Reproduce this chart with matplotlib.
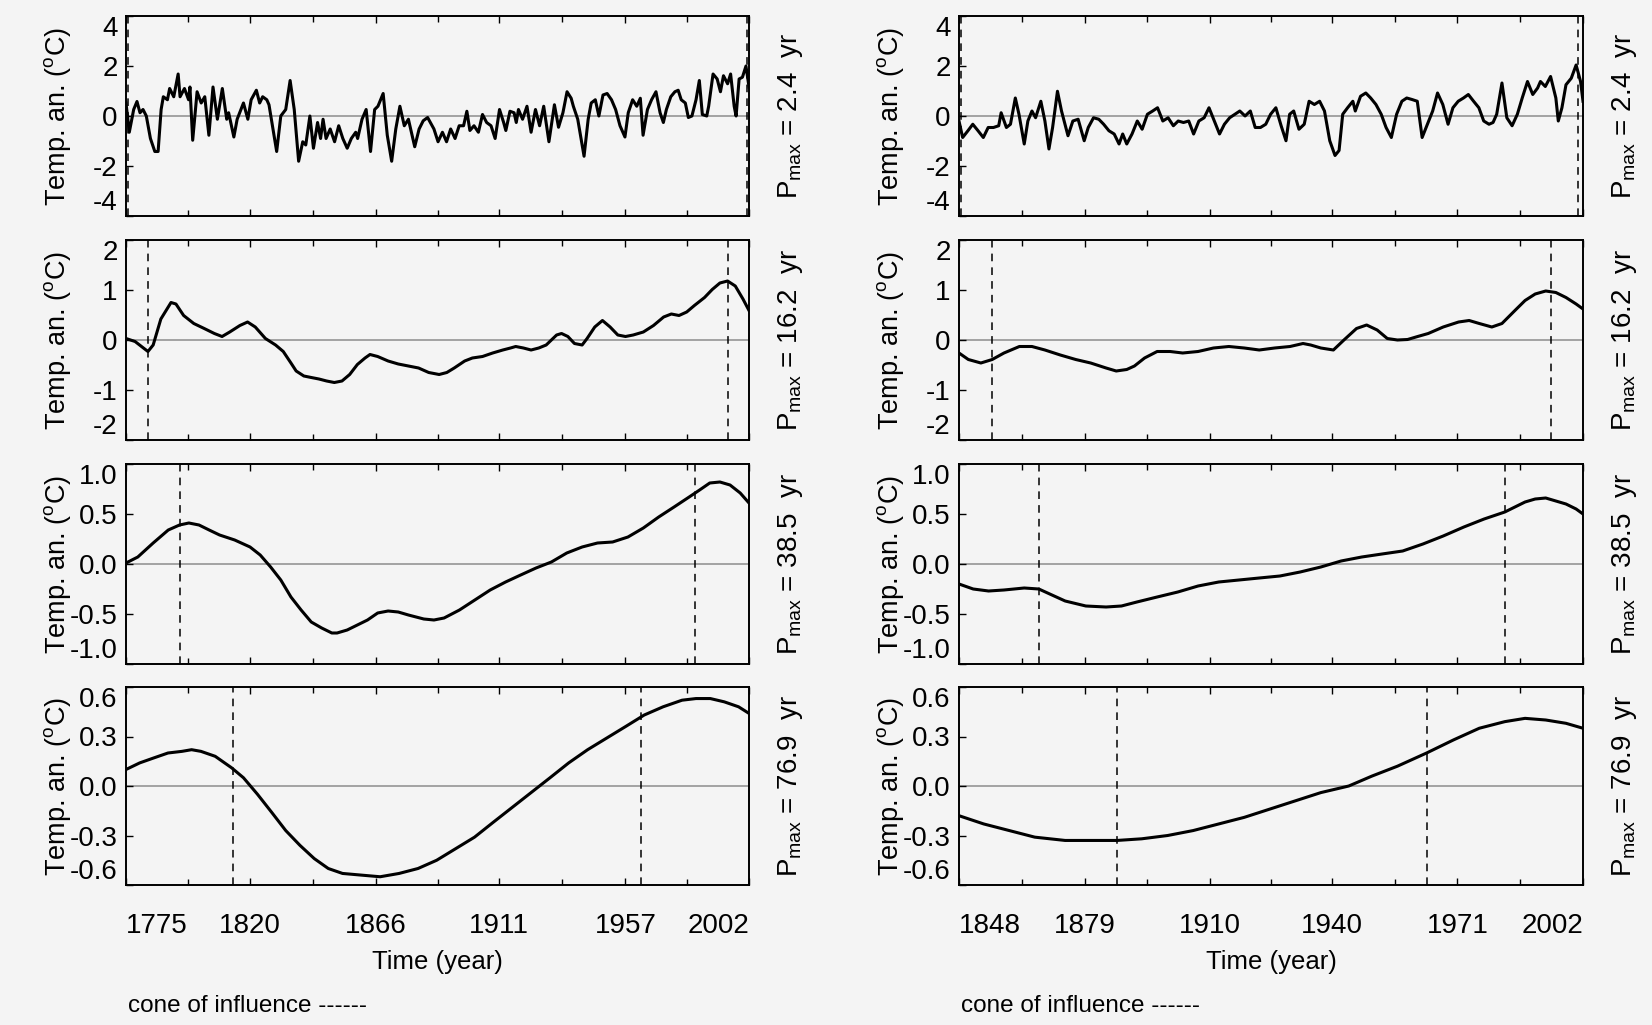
import matplotlib
matplotlib.use('Agg')
import matplotlib.pyplot as plt

plt.rcParams['font.family'] = ['Liberation Sans', 'DejaVu Sans']
plt.rcParams['mathtext.fontset'] = 'custom'
plt.rcParams['mathtext.rm'] = 'Liberation Sans'

# ---------------- data ----------------
periods = [2.4, 16.2, 38.5, 76.9]

left_xticks = [1775, 1820, 1866, 1911, 1957, 2002]
right_xticks = [1848, 1879, 1910, 1940, 1971, 2002]

ylims = [4, 2, 1.0, 0.6]
yticks = [[-4, -2, 0, 2, 4], [-2, -1, 0, 1, 2],
          [-1.0, -0.5, 0.0, 0.5, 1.0], [-0.6, -0.3, 0.0, 0.3, 0.6]]
yticklabels = [['-4', '-2', '0', '2', '4'], ['-2', '-1', '0', '1', '2'],
               ['-1.0', '-0.5', '0.0', '0.5', '1.0'], ['-0.6', '-0.3', '0.0', '0.3', '0.6']]

# cone of influence (years of dashed lines) per row
left_cones = [(1775.6, 2001.2), (1783.0, 1994.2), (1794.5, 1982.5), (1814.0, 1962.8)]
right_cones = [(1848.4, 2000.8), (1856.2, 1994.1), (1867.7, 1982.7), (1887.0, 1963.4)]

# left column, P = 2.4 yr
l1_years = [1775.0, 1776.2, 1777.8, 1779.0, 1780.1, 1781.2, 1782.4, 1783.9, 1785.5, 1786.7,
            1787.8, 1788.6, 1790.1, 1790.9, 1792.4, 1794.0, 1794.7, 1796.3, 1797.8, 1798.3,
            1799.3, 1800.9, 1802.4, 1803.7, 1805.2, 1806.7, 1808.3, 1810.1, 1811.7, 1812.4,
            1814.3, 1815.5, 1817.8, 1819.4, 1820.6, 1822.5, 1823.7, 1824.8, 1826.3, 1827.1,
            1829.9, 1831.4, 1833.2, 1834.8, 1836.3, 1837.9, 1839.4, 1840.5, 1842.0, 1843.3,
            1844.8, 1845.9, 1846.8, 1847.9, 1849.4, 1851.0, 1852.5, 1854.0, 1855.6, 1857.1,
            1858.7, 1859.4, 1861.0, 1862.5, 1864.1, 1865.6, 1866.8, 1868.7, 1870.2, 1871.8,
            1873.3, 1874.8, 1876.4, 1877.9, 1880.2, 1881.8, 1883.3, 1884.9, 1887.2, 1888.7,
            1890.3, 1891.8, 1893.3, 1894.9, 1896.4, 1898.0, 1899.2, 1900.3, 1901.8, 1903.4,
            1904.9, 1906.4, 1908.0, 1909.5, 1911.1, 1912.6, 1913.4, 1914.9, 1916.4, 1917.2,
            1918.0, 1919.5, 1921.1, 1922.6, 1924.2, 1925.7, 1927.2, 1929.1, 1931.1, 1932.6,
            1934.2, 1935.7, 1937.2, 1938.0, 1939.6, 1941.9, 1943.4, 1944.5, 1946.0, 1947.3,
            1948.8, 1950.3, 1951.9, 1953.4, 1955.0, 1956.8, 1958.0, 1959.6, 1961.1, 1962.4,
            1963.4, 1965.0, 1966.5, 1968.1, 1969.6, 1970.8, 1971.9, 1973.5, 1975.0, 1976.2,
            1977.3, 1978.8, 1979.9, 1981.2, 1982.7, 1983.9, 1985.0, 1986.6, 1987.3, 1988.9,
            1990.4, 1991.6, 1992.7, 1994.2, 1995.3, 1996.6, 1997.3, 1998.4, 1999.6, 2000.9,
            2002.0]
l1_vals = [0.52, -0.65, 0.26, 0.58, 0.13, 0.26, 0.0, -0.9, -1.42, -1.42,
           0.26, 0.77, 0.65, 1.1, 0.77, 1.68, 0.77, 1.1, 0.65, 1.16,
           -0.97, 0.97, 0.52, 0.77, -0.77, 1.16, -0.13, 1.1, -0.13, 0.13,
           -0.84, -0.13, 0.52, -0.13, 0.65, 1.03, 0.52, 0.77, 0.65, 0.45,
           -1.42, 0.0, 0.26, 1.42, 0.26, -1.81, -1.03, -1.16, 0.0, -1.29,
           -0.26, -0.9, -0.13, -0.9, -0.52, -1.03, -0.39, -0.9, -1.29, -0.9,
           -0.65, -0.9, -0.13, 0.26, -1.42, 0.26, 0.39, 0.9, -0.77, -1.81,
           -0.52, 0.39, -0.39, -0.13, -1.23, -0.52, -0.19, -0.06, -0.52, -1.03,
           -0.65, -1.03, -0.52, -0.9, -0.39, -0.39, 0.19, -0.58, -0.39, -0.65,
           0.06, -0.26, -0.39, -0.9, 0.26, -0.26, -0.58, 0.19, 0.13, -0.26,
           0.26, -0.13, 0.39, -0.65, 0.26, -0.39, 0.39, -1.03, 0.45, -0.45,
           0.13, 0.97, 0.71, 0.39, -0.13, -1.61, -0.13, 0.52, 0.65, 0.0,
           0.84, 0.9, 0.65, 0.26, -0.39, -0.84, 0.13, 0.65, 0.39, 0.71,
           -0.77, 0.26, 0.65, 0.97, 0.13, -0.26, 0.26, 0.77, 0.97, 1.03,
           0.65, 0.52, -0.06, 0.0, 0.65, 1.42, 0.06, 0.0, 0.39, 1.68,
           1.48, 0.97, 1.61, 1.29, 1.68, 0.39, 0.0, 1.48, 1.55, 2.0,
           1.16]

# left column, P = 16.2 yr
l2_years = [1775.0, 1778.3, 1783.0, 1784.9, 1787.7, 1791.4, 1793.2, 1796.0, 1799.7, 1803.5,
            1807.2, 1810.0, 1812.8, 1816.5, 1819.3, 1822.1, 1825.8, 1829.5, 1832.3, 1835.1,
            1837.0, 1839.8, 1842.5, 1845.3, 1848.1, 1850.9, 1853.7, 1856.5, 1859.3, 1862.1,
            1863.9, 1866.7, 1870.5, 1874.2, 1877.9, 1881.6, 1885.3, 1889.1, 1891.9, 1894.6,
            1898.4, 1901.2, 1904.9, 1908.6, 1912.3, 1915.1, 1917.0, 1919.8, 1922.6, 1925.4,
            1928.1, 1931.9, 1933.7, 1936.0, 1938.4, 1941.2, 1943.0, 1945.8, 1948.6, 1951.4,
            1954.2, 1957.0, 1959.8, 1963.5, 1967.2, 1970.9, 1973.7, 1976.5, 1979.3, 1982.1,
            1985.8, 1988.6, 1991.4, 1994.2, 1997.0, 1999.8, 2002.0]
l2_vals = [0.03, -0.03, -0.23, -0.1, 0.42, 0.75, 0.72, 0.49, 0.33, 0.23,
           0.13, 0.07, 0.16, 0.29, 0.36, 0.26, 0.03, -0.1, -0.23, -0.46,
           -0.62, -0.72, -0.75, -0.78, -0.82, -0.85, -0.82, -0.69, -0.49, -0.36,
           -0.29, -0.33, -0.42, -0.48, -0.52, -0.56, -0.65, -0.69, -0.65, -0.56,
           -0.42, -0.36, -0.33, -0.26, -0.2, -0.16, -0.13, -0.16, -0.2, -0.16,
           -0.1, 0.1, 0.13, 0.07, -0.07, -0.1, 0.03, 0.26, 0.39, 0.26,
           0.1, 0.07, 0.1, 0.16, 0.29, 0.46, 0.52, 0.49, 0.56, 0.69,
           0.85, 1.01, 1.14, 1.18, 1.08, 0.82, 0.59]

# left column, P = 38.5 yr
l3_years = [1775.0, 1779.3, 1784.9, 1790.4, 1794.5, 1797.9, 1801.6, 1805.3, 1809.1, 1814.6,
            1820.2, 1823.9, 1827.7, 1831.4, 1835.1, 1838.8, 1842.5, 1846.3, 1850.0, 1851.9,
            1855.6, 1859.3, 1863.0, 1866.7, 1870.5, 1874.2, 1877.9, 1883.5, 1887.2, 1890.9,
            1896.5, 1902.1, 1907.7, 1913.3, 1918.8, 1924.4, 1930.0, 1935.6, 1941.2, 1946.8,
            1952.3, 1957.9, 1963.5, 1969.1, 1974.7, 1980.2, 1984.0, 1987.7, 1991.4, 1995.1,
            1998.8, 2002.0]
l3_vals = [0.01, 0.07, 0.21, 0.34, 0.39, 0.41, 0.39, 0.34, 0.29, 0.24,
           0.17, 0.09, -0.03, -0.16, -0.33, -0.46, -0.58, -0.64, -0.69, -0.69,
           -0.66, -0.61, -0.56, -0.49, -0.47, -0.48, -0.51, -0.55, -0.56, -0.54,
           -0.46, -0.36, -0.26, -0.18, -0.11, -0.04, 0.02, 0.11, 0.17, 0.21,
           0.22, 0.27, 0.36, 0.47, 0.57, 0.67, 0.74, 0.81, 0.82, 0.79,
           0.71, 0.61]

# left column, P = 76.9 yr
l4_years = [1775.0, 1780.0, 1785.1, 1790.3, 1795.4, 1798.9, 1802.3, 1807.5, 1813.5, 1817.8,
            1822.9, 1828.1, 1833.2, 1838.4, 1843.6, 1848.7, 1853.9, 1860.7, 1867.6, 1874.5,
            1881.4, 1888.2, 1895.1, 1902.0, 1908.8, 1915.7, 1922.6, 1929.5, 1936.3, 1943.2,
            1950.1, 1957.0, 1963.8, 1970.7, 1977.6, 1982.7, 1987.9, 1993.0, 1998.2, 2002.0]
l4_vals = [0.1, 0.14, 0.17, 0.2, 0.21, 0.22, 0.21, 0.18, 0.11, 0.05,
           -0.05, -0.16, -0.27, -0.36, -0.44, -0.5, -0.53, -0.54, -0.55, -0.53,
           -0.5, -0.45, -0.38, -0.31, -0.22, -0.13, -0.04, 0.05, 0.14, 0.22,
           0.29, 0.36, 0.43, 0.48, 0.52, 0.53, 0.53, 0.51, 0.48, 0.44]

# right column, P = 2.4 yr
r1_years = [1848.0, 1848.9, 1850.2, 1851.4, 1852.7, 1854.0, 1855.2, 1856.5, 1857.8, 1858.4,
            1859.7, 1860.7, 1861.9, 1862.8, 1864.1, 1865.0, 1866.0, 1866.9, 1868.2, 1869.2,
            1870.2, 1871.1, 1872.3, 1873.3, 1874.9, 1876.1, 1877.4, 1878.9, 1879.9, 1881.2,
            1882.5, 1883.7, 1885.0, 1886.3, 1887.5, 1888.4, 1889.4, 1890.7, 1892.0, 1893.2,
            1894.5, 1895.8, 1897.0, 1898.3, 1899.6, 1900.9, 1902.1, 1903.4, 1904.7, 1905.9,
            1907.2, 1908.5, 1909.7, 1911.0, 1912.3, 1913.5, 1914.8, 1916.1, 1917.3, 1918.6,
            1919.9, 1921.1, 1922.4, 1923.7, 1924.9, 1926.2, 1927.5, 1928.7, 1929.6, 1930.6,
            1931.9, 1933.2, 1934.4, 1935.7, 1937.0, 1938.2, 1939.5, 1940.8, 1941.8, 1942.7,
            1943.9, 1945.2, 1945.8, 1947.1, 1948.4, 1949.6, 1950.9, 1952.2, 1953.4, 1954.7,
            1956.0, 1957.3, 1958.5, 1959.8, 1961.1, 1962.3, 1963.6, 1964.9, 1966.1, 1967.4,
            1968.7, 1969.9, 1971.2, 1972.5, 1973.7, 1975.0, 1976.3, 1977.5, 1978.8, 1979.8,
            1980.7, 1982.0, 1983.2, 1984.5, 1985.8, 1987.0, 1988.3, 1989.6, 1990.8, 1991.5,
            1992.7, 1994.0, 1995.3, 1995.9, 1996.8, 1997.8, 1999.1, 2000.3, 2001.4, 2002.0]
r1_vals = [-0.2, -0.86, -0.59, -0.33, -0.59, -0.86, -0.46, -0.46, -0.39, 0.13,
           -0.46, -0.33, 0.72, 0.07, -1.12, -0.2, 0.2, -0.07, 0.59, -0.2,
           -1.32, -0.46, 0.99, 0.2, -0.79, -0.2, -0.13, -0.99, -0.46, -0.07,
           -0.13, -0.33, -0.59, -0.72, -1.12, -0.72, -1.12, -0.72, -0.2, -0.53,
           0.07, 0.2, 0.33, -0.2, -0.07, -0.39, -0.2, -0.26, -0.2, -0.72,
           -0.2, -0.07, 0.33, -0.2, -0.72, -0.33, -0.07, 0.07, 0.2, 0.0,
           0.2, -0.46, -0.46, -0.33, 0.07, 0.33, -0.39, -0.99, 0.07, 0.2,
           -0.53, -0.33, 0.59, 0.46, 0.59, 0.2, -0.99, -1.58, -1.38, 0.07,
           0.33, 0.59, 0.2, 0.79, 0.92, 0.72, 0.46, 0.07, -0.46, -0.86,
           0.07, 0.59, 0.72, 0.66, 0.59, -0.86, -0.33, 0.2, 0.92, 0.46,
           -0.33, 0.33, 0.59, 0.72, 0.86, 0.59, 0.33, -0.2, -0.33, -0.26,
           0.07, 1.32, -0.07, -0.39, 0.07, 0.72, 1.38, 0.86, 1.12, 1.38,
           1.18, 1.58, 0.72, -0.2, 0.33, 1.25, 1.51, 2.04, 1.38, 0.59]

# right column, P = 16.2 yr
r2_years = [1848.0, 1850.3, 1853.4, 1856.2, 1859.1, 1862.9, 1866.0, 1869.2, 1873.0, 1876.8,
            1880.5, 1884.3, 1886.8, 1889.4, 1891.3, 1893.8, 1896.9, 1900.1, 1903.2, 1907.0,
            1910.8, 1914.6, 1918.4, 1922.1, 1925.9, 1929.7, 1932.9, 1934.8, 1937.3, 1940.4,
            1943.0, 1946.1, 1948.6, 1951.2, 1953.7, 1956.2, 1958.7, 1961.2, 1963.8, 1967.5,
            1971.3, 1973.9, 1976.4, 1979.5, 1982.0, 1985.2, 1987.7, 1990.2, 1992.8, 1995.3,
            1997.8, 2000.3, 2002.0]
r2_vals = [-0.26, -0.39, -0.46, -0.39, -0.26, -0.13, -0.13, -0.2, -0.3, -0.39,
           -0.46, -0.56, -0.62, -0.59, -0.52, -0.36, -0.23, -0.23, -0.26, -0.23,
           -0.16, -0.13, -0.16, -0.2, -0.16, -0.13, -0.07, -0.1, -0.16, -0.2,
           0.0, 0.23, 0.3, 0.2, 0.03, 0.0, 0.01, 0.07, 0.13, 0.26,
           0.36, 0.39, 0.33, 0.26, 0.33, 0.59, 0.79, 0.92, 0.98, 0.95,
           0.85, 0.72, 0.62]

# right column, P = 38.5 yr
r3_years = [1848.0, 1851.5, 1855.3, 1859.1, 1864.1, 1867.7, 1870.4, 1874.2, 1879.3, 1884.3,
            1888.1, 1891.9, 1896.9, 1902.0, 1907.0, 1912.1, 1917.1, 1922.1, 1927.2, 1932.2,
            1937.3, 1942.3, 1947.4, 1952.4, 1957.5, 1962.5, 1967.5, 1972.6, 1977.6, 1982.7,
            1985.2, 1987.7, 1990.2, 1992.8, 1995.3, 1997.8, 2000.3, 2002.0]
r3_vals = [-0.2, -0.25, -0.27, -0.26, -0.24, -0.25, -0.3, -0.37, -0.42, -0.43,
           -0.42, -0.38, -0.33, -0.28, -0.22, -0.18, -0.16, -0.14, -0.12, -0.08,
           -0.03, 0.03, 0.07, 0.1, 0.13, 0.2, 0.28, 0.37, 0.45, 0.52,
           0.57, 0.62, 0.65, 0.66, 0.63, 0.6, 0.55, 0.5]

# right column, P = 76.9 yr
r4_years = [1848.0, 1854.1, 1860.4, 1866.7, 1874.2, 1881.8, 1887.0, 1893.1, 1899.5, 1905.8,
            1912.1, 1918.4, 1924.7, 1931.0, 1937.3, 1944.2, 1949.9, 1956.2, 1963.4, 1970.1,
            1976.4, 1982.7, 1987.7, 1992.8, 1997.8, 2002.0]
r4_vals = [-0.18, -0.23, -0.27, -0.31, -0.33, -0.33, -0.33, -0.32, -0.3, -0.27,
           -0.23, -0.19, -0.14, -0.09, -0.04, 0.0, 0.06, 0.12, 0.2, 0.28,
           0.35, 0.39, 0.41, 0.4, 0.38, 0.35]

# ---------------- layout ----------------
W, H = 1652, 1025
BG = '#f4f4f4'
fig = plt.figure(figsize=(W / 100, H / 100), dpi=100)
fig.patch.set_facecolor(BG)

columns = [
    dict(x0=126, w=623, xticks=left_xticks, cones=left_cones,
         series=[(l1_years, l1_vals), (l2_years, l2_vals), (l3_years, l3_vals), (l4_years, l4_vals)]),
    dict(x0=959, w=624, xticks=right_xticks, cones=right_cones,
         series=[(r1_years, r1_vals), (r2_years, r2_vals), (r3_years, r3_vals), (r4_years, r4_vals)]),
]
row_tops = [16, 240, 464, 687]
row_h = [200, 200, 200, 198]

FS = 20
for col in columns:
    xt = col['xticks']
    minor = [(a + b) / 2 for a, b in zip(xt[:-1], xt[1:])]
    for r in range(4):
        top, h = row_tops[r], row_h[r]
        ax = fig.add_axes([col['x0'] / W, 1 - (top + h) / H, col['w'] / W, h / H])
        ax.set_facecolor('none')
        yrs, vals = col['series'][r]
        ax.axhline(0, color='#8c8c8c', lw=1.1, zorder=1)
        for c in col['cones'][r]:
            ax.axvline(c, color='black', lw=1.1, ls=(0, (5, 4)), zorder=2)
        ax.plot(yrs, vals, color='black', lw=2.2, zorder=3, solid_joinstyle='round')
        ax.set_xlim(xt[0], xt[-1])
        lim = ylims[r]
        ax.set_ylim(-lim, lim)
        ax.set_yticks(yticks[r], yticklabels[r])
        ax.set_xticks(xt)
        ax.set_xticks(minor, minor=True)
        for s in ax.spines.values():
            s.set_linewidth(1.4)
        ax.tick_params(axis='y', direction='in', length=5, width=1.0, labelsize=FS, pad=6)
        ax.tick_params(axis='x', which='both', direction='in', top=True, width=1.0,
                       labelsize=FS, pad=20, labelbottom=(r == 3))
        ax.tick_params(axis='x', which='major', length=5)
        ax.tick_params(axis='x', which='minor', length=4)
        ylabs = ax.get_yticklabels()
        ylabs[0].set_verticalalignment('bottom')
        ylabs[-1].set_verticalalignment('top')
        if r == 3:
            xlabs = ax.get_xticklabels()
            xlabs[0].set_horizontalalignment('left')
            xlabs[-1].set_horizontalalignment('right')
            ax.set_xlabel('Time (year)', fontsize=18.5, labelpad=8)
        ax.set_ylabel(r'Temp. an. ($^{\mathregular{o}}$C)', fontsize=19.5)
        ax.yaxis.set_label_coords(-0.085, 0.5)
        ax.text(1.066, 0.5, r'P$_{\mathregular{max}}$ = %.1f  yr' % periods[r],
                rotation=90, transform=ax.transAxes, ha='center', va='center', fontsize=20)
    fig.text((col['x0'] + 2) / W, 1 - 1006 / H, 'cone of influence ------',
             ha='left', va='center', fontsize=17.5)

fig.savefig('out.png', dpi=100, facecolor=BG)
